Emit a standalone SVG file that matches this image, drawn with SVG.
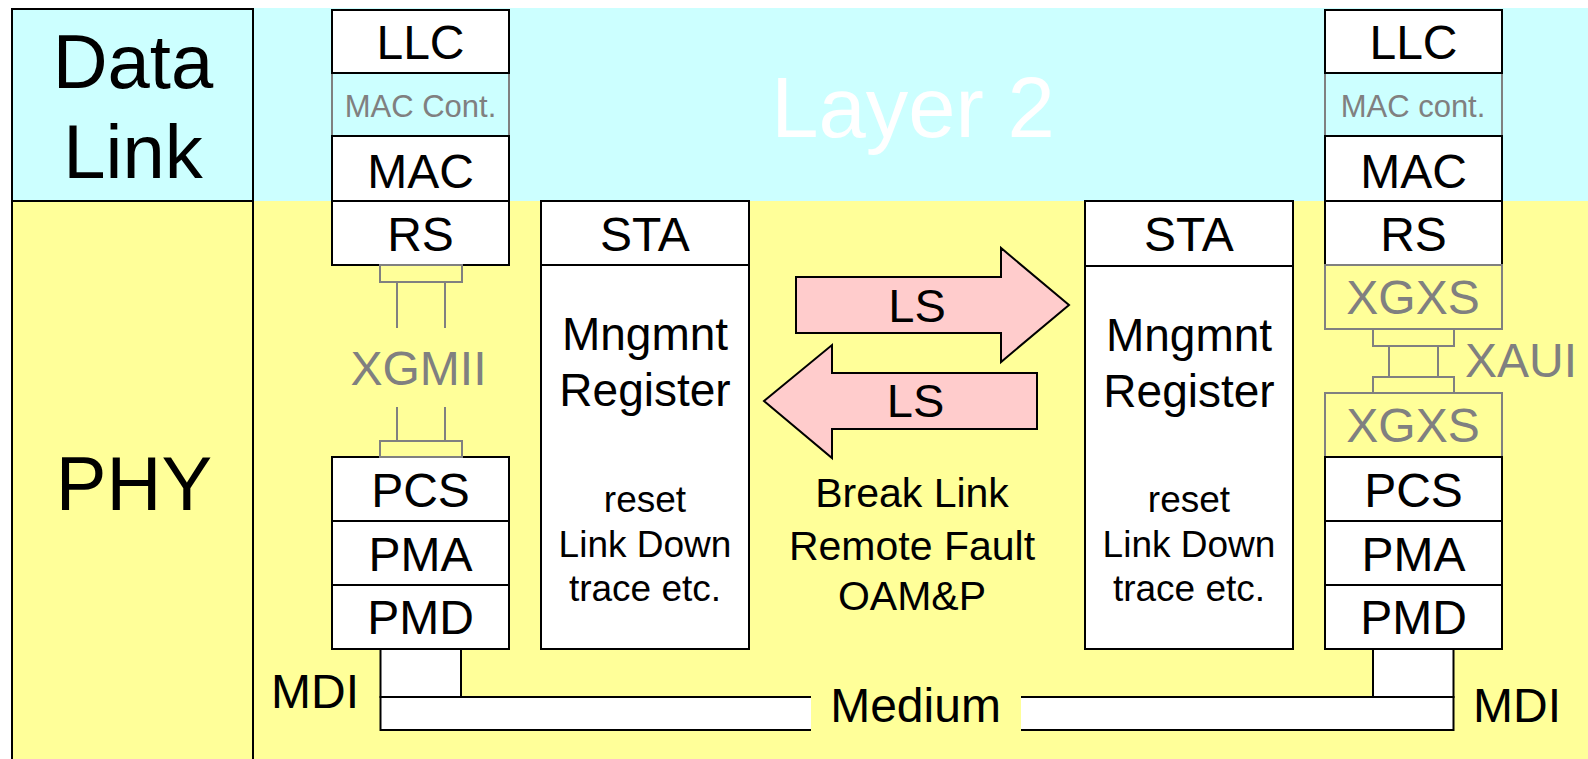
<svg xmlns="http://www.w3.org/2000/svg" width="1588" height="759" viewBox="0 0 1588 759">
  <style>
    text { font-family: "Liberation Sans", Arial, sans-serif; text-anchor: middle; fill: #000; }
    .box { fill: #fff; stroke: #000; stroke-width: 2; }
    .ghost { fill: none; stroke: #808080; stroke-width: 2; }
    .wire { fill: none; stroke: #808080; stroke-width: 2; }
    .arrow { fill: #FFCCCC; stroke: #000; stroke-width: 2; stroke-linejoin: miter; }
    .lbl { font-size: 48px; }
    .dim { fill: #808080; }
    .ctl { font-size: 31px; fill: #808080; }
    .reg { font-size: 46px; }
    .small { font-size: 37px; }
    .side { font-size: 76px; }
  </style>

  <!-- backgrounds -->
  <rect x="0" y="0" width="1588" height="759" fill="#fff"/>
  <rect x="253" y="8" width="1335" height="193" fill="#CCFFFF"/>
  <rect x="253" y="201" width="1335" height="558" fill="#FFFF99"/>
  <text x="913" y="137" font-size="85" fill="#fff" style="fill:#fff">Layer 2</text>

  <!-- layer column -->
  <g id="col-datalink">
    <rect x="12" y="9" width="241" height="192" fill="#CCFFFF" stroke="#000" stroke-width="2"/>
    <text class="side" x="133" y="88">Data</text>
    <text class="side" x="133" y="178">Link</text>
  </g>
  <g id="col-phy">
    <rect x="12" y="201" width="241" height="570" fill="#FFFF99" stroke="#000" stroke-width="2"/>
    <text class="side" x="134" y="510">PHY</text>
  </g>

  <!-- left station stack -->
  <g id="left-stack">
    <rect class="ghost" x="332" y="73" width="177" height="63"/>
    <text class="ctl" x="420.5" y="117">MAC Cont.</text>
    <rect class="box" x="332" y="10" width="177" height="63"/>
    <text class="lbl" x="420.5" y="59">LLC</text>
    <rect class="box" x="332" y="136" width="177" height="65"/>
    <text class="lbl" x="420.5" y="188">MAC</text>
    <rect class="box" x="332" y="201" width="177" height="64"/>
    <text class="lbl" x="420.5" y="251">RS</text>
    <rect class="box" x="332" y="457" width="177" height="64"/>
    <text class="lbl" x="420.5" y="507">PCS</text>
    <rect class="box" x="332" y="521" width="177" height="64"/>
    <text class="lbl" x="420.5" y="571">PMA</text>
    <rect class="box" x="332" y="585" width="177" height="64"/>
    <text class="lbl" x="420.5" y="634">PMD</text>
  </g>

  <!-- right station stack -->
  <g id="right-stack">
    <rect class="ghost" x="1325" y="73" width="177" height="63"/>
    <text class="ctl" x="1413" y="117">MAC cont.</text>
    <rect class="box" x="1325" y="10" width="177" height="63"/>
    <text class="lbl" x="1413.5" y="59">LLC</text>
    <rect class="box" x="1325" y="136" width="177" height="65"/>
    <text class="lbl" x="1413.5" y="188">MAC</text>
    <rect class="box" x="1325" y="201" width="177" height="64"/>
    <text class="lbl" x="1413.5" y="251">RS</text>
    <rect class="ghost" x="1325" y="265" width="177" height="64"/>
    <text class="lbl dim" x="1413" y="314">XGXS</text>
    <rect class="ghost" x="1325" y="393" width="177" height="64"/>
    <text class="lbl dim" x="1413" y="442">XGXS</text>
    <rect class="box" x="1325" y="457" width="177" height="64"/>
    <text class="lbl" x="1413.5" y="507">PCS</text>
    <rect class="box" x="1325" y="521" width="177" height="64"/>
    <text class="lbl" x="1413.5" y="571">PMA</text>
    <rect class="box" x="1325" y="585" width="177" height="64"/>
    <text class="lbl" x="1413.5" y="634">PMD</text>
  </g>

  <!-- management blocks -->
  <g id="left-sta">
    <rect class="box" x="541" y="201" width="208" height="448"/>
    <line x1="541" y1="265" x2="749" y2="265" stroke="#000" stroke-width="2"/>
    <text class="lbl" x="645" y="251">STA</text>
    <text class="reg" x="645" y="350">Mngmnt</text>
    <text class="reg" x="645" y="406">Register</text>
    <text class="small" x="645" y="512">reset</text>
    <text class="small" x="645" y="557">Link Down</text>
    <text class="small" x="645" y="601">trace etc.</text>
  </g>
  <g id="right-sta">
    <rect class="box" x="1085" y="201" width="208" height="448"/>
    <line x1="1085" y1="266" x2="1293" y2="266" stroke="#000" stroke-width="2"/>
    <text class="lbl" x="1189" y="251">STA</text>
    <text class="reg" x="1189" y="351">Mngmnt</text>
    <text class="reg" x="1189" y="407">Register</text>
    <text class="small" x="1189" y="512">reset</text>
    <text class="small" x="1189" y="557">Link Down</text>
    <text class="small" x="1189" y="601">trace etc.</text>
  </g>

  <!-- connectors -->
  <g id="connectors">
    <!-- XGMII -->
    <rect class="wire" x="380" y="265" width="82" height="17"/>
    <path class="wire" d="M397,282 V328 M445,282 V328 M397,407 V441 M445,407 V441"/>
    <rect class="wire" x="380" y="441" width="82" height="16"/>
    <text class="lbl dim" x="418.5" y="385">XGMII</text>
    <!-- XAUI -->
    <rect class="wire" x="1373" y="329" width="81" height="17"/>
    <rect class="wire" x="1389" y="346" width="49" height="31"/>
    <rect class="wire" x="1373" y="377" width="81" height="16"/>
    <text class="lbl dim" x="1521" y="377">XAUI</text>
    <!-- medium and MDI -->
    <path class="box" d="M811,697 H380.5 V730 H811"/>
    <path class="box" d="M1021,697 H1453.5 V730 H1021"/>
    <rect class="box" x="380.5" y="649" width="80.5" height="48"/>
    <rect class="box" x="1373" y="649" width="80.5" height="48"/>
    <text class="lbl" x="315" y="708">MDI</text>
    <text class="lbl" x="1517" y="722">MDI</text>
    <text class="lbl" x="915.5" y="722">Medium</text>
    <!-- link signalling -->
    <polygon class="arrow" points="796,277 1001,277 1001,248 1069,305 1001,362 1001,333 796,333"/>
    <text class="lbl" x="917" y="322" style="font-size:47px">LS</text>
    <polygon class="arrow" points="1037,373 832,373 832,345 764,401 832,458 832,429 1037,429"/>
    <text class="lbl" x="915.5" y="417" style="font-size:47px">LS</text>
    <text x="912" y="507" font-size="41">Break Link</text>
    <text x="912" y="560" font-size="41">Remote Fault</text>
    <text x="912" y="610" font-size="41">OAM&amp;P</text>
  </g>
</svg>
